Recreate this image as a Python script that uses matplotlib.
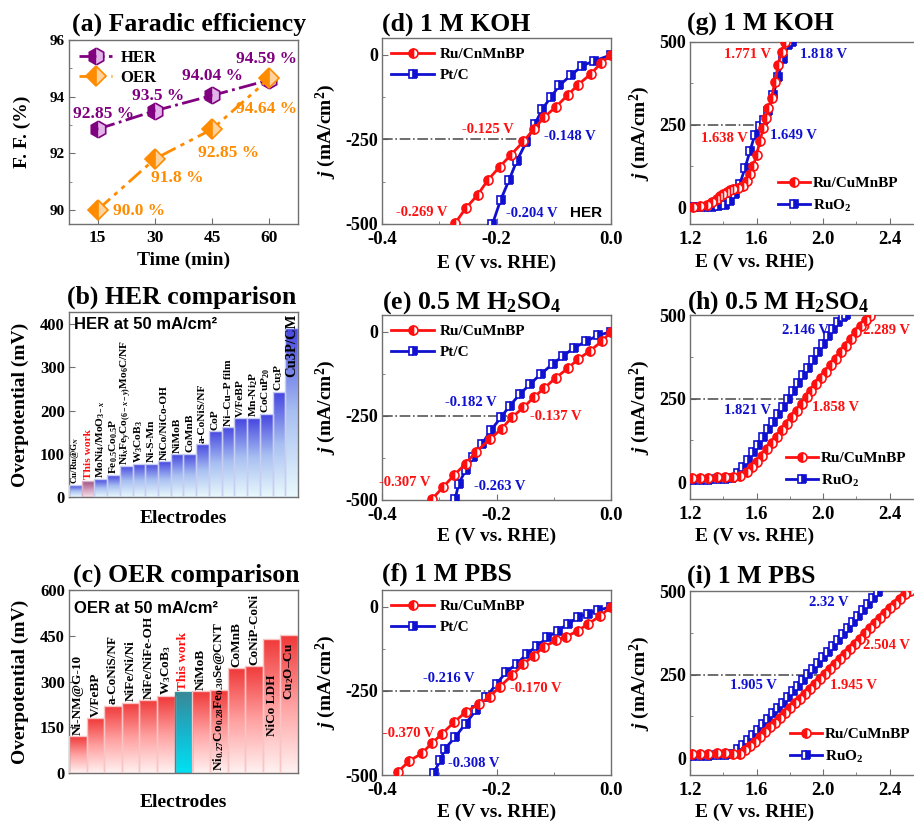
import numpy as np
import matplotlib
matplotlib.use("Agg")
import matplotlib.pyplot as plt
from matplotlib.colors import LinearSegmentedColormap
from matplotlib.ticker import MultipleLocator

plt.rcParams['font.family'] = ['Liberation Serif', 'DejaVu Serif']
plt.rcParams['font.weight'] = 'bold'
plt.rcParams['axes.labelweight'] = 'bold'
plt.rcParams['axes.unicode_minus'] = False
plt.rcParams['mathtext.fontset'] = 'custom'
plt.rcParams['mathtext.rm'] = 'Liberation Serif:bold'
plt.rcParams['mathtext.it'] = 'Liberation Serif:italic:bold'
plt.rcParams['mathtext.bf'] = 'Liberation Serif:bold'

# ---------------- data ----------------
fe_time = [15, 30, 45, 60]
fe_her = [92.85, 93.5, 94.04, 94.59]
fe_oer = [90.0, 91.8, 92.85, 94.64]

her_names = ['Cu/Ru@G$_N$', 'This work', 'MoNi$_4$/MoO$_{3-x}$', 'Fe$_{0.5}$Co$_{0.5}$P',
             'Ni$_x$Fe$_y$Co$_{(6-x-y)}$Mo$_6$C/NF', 'W$_3$CoB$_3$', 'Ni-S-Mn', 'NiCo/NiCo-OH',
             'NiMoB', 'CoMnB', 'a-CoNiS/NF', 'CoP', 'Ni–Cu–P film', 'V/FeBP', 'Mn-Ni$_2$P',
             'CoCuP$_{20}$', 'Cu$_3$P', 'Cu3P/CM']
her_vals = [27, 38, 41, 50, 72, 76, 77, 83, 99, 100, 123, 153, 162, 182, 182, 192, 242, 392]

oer_names = ['Ni-NM@G-10', 'V/FeBP', 'a-CoNiS/NF', 'NiFe/Ni/Ni', 'NiFe/NiFe-OH', 'W$_3$CoB$_3$',
             'This work', 'NiMoB', 'Ni$_{0.27}$Co$_{0.28}$Fe$_{0.30}$Se@CNT', 'CoMnB', 'CoNiP-CoNi',
             'NiCo LDH', 'Cu$_2$O–Cu']
oer_vals = [120, 180, 221, 231, 240, 251, 267, 268, 272, 344, 351, 440, 452]

# HER LSV (d) 1 M KOH
d_ru_x = [0.0, -0.018, -0.035, -0.058, -0.075, -0.096, -0.117, -0.135, -0.153, -0.175, -0.194, -0.215, -0.233, -0.254, -0.272]
d_ru_y = [0, -25, -56, -89, -118, -153, -185, -220, -256, -296, -330, -370, -414, -454, -497]
d_pt_x = [0.0, -0.03, -0.05, -0.07, -0.09, -0.105, -0.12, -0.133, -0.148, -0.165, -0.178, -0.193, -0.207]
d_pt_y = [0, -18, -32, -60, -90, -125, -160, -205, -258, -315, -370, -430, -500]
# (e) 0.5 M H2SO4
e_ru_x = [0.0, -0.016, -0.037, -0.058, -0.075, -0.096, -0.117, -0.135, -0.153, -0.173, -0.191, -0.212, -0.236, -0.254, -0.274, -0.293, -0.313]
e_ru_y = [0, -28, -57, -82, -108, -136, -168, -195, -225, -254, -288, -320, -357, -392, -426, -461, -498]
e_pt_x = [0.0, -0.022, -0.043, -0.064, -0.084, -0.102, -0.123, -0.141, -0.159, -0.177, -0.192, -0.210, -0.225, -0.241, -0.254, -0.266, -0.272]
e_pt_y = [0, -10, -28, -47, -72, -96, -126, -155, -185, -220, -254, -293, -333, -372, -412, -451, -496]
# (f) 1 M PBS
f_ru_x = [0.0, -0.019, -0.040, -0.058, -0.078, -0.096, -0.117, -0.135, -0.153, -0.173, -0.194, -0.212, -0.230, -0.254, -0.274, -0.295, -0.313, -0.331, -0.352, -0.372]
f_ru_y = [0, -27, -51, -71, -89, -100, -119, -145, -170, -204, -237, -268, -288, -313, -343, -377, -406, -436, -458, -490]
f_pt_x = [0.0, -0.022, -0.040, -0.058, -0.075, -0.093, -0.111, -0.129, -0.147, -0.165, -0.183, -0.200, -0.218, -0.236, -0.254, -0.272, -0.290, -0.298, -0.310]
f_pt_y = [0, -10, -20, -31, -51, -71, -91, -116, -140, -170, -194, -229, -268, -308, -347, -387, -422, -456, -495]
# OER LSV (g) 1 M KOH
g_ru_x = [1.22, 1.26, 1.30, 1.33, 1.36, 1.38, 1.40, 1.42, 1.44, 1.46, 1.49, 1.52, 1.54, 1.56, 1.58, 1.60, 1.62, 1.64, 1.655, 1.67, 1.69, 1.71, 1.73, 1.75, 1.77]
g_ru_y = [2, 4, 8, 15, 25, 34, 42, 48, 52, 55, 58, 66, 80, 100, 125, 160, 200, 240, 270, 300, 330, 380, 430, 470, 500]
g_ox_x = [1.21, 1.25, 1.29, 1.33, 1.37, 1.41, 1.44, 1.47, 1.50, 1.53, 1.56, 1.59, 1.62, 1.645, 1.67, 1.70, 1.73, 1.76, 1.79, 1.81]
g_ox_y = [2, 2, 2, 2, 3, 6, 18, 40, 72, 118, 170, 220, 245, 265, 290, 340, 395, 450, 490, 500]
# (h) 0.5 M H2SO4
h_ru_x = [1.21, 1.26, 1.31, 1.36, 1.41, 1.46, 1.50, 1.54, 1.57, 1.60, 1.63, 1.66, 1.69, 1.72, 1.75, 1.78, 1.81, 1.84, 1.87, 1.90, 1.93, 1.96, 1.99, 2.02, 2.05, 2.08, 2.11, 2.14, 2.17, 2.20, 2.23, 2.26, 2.28]
h_ru_y = [12, 13, 14, 15, 16, 15, 18, 32, 46, 62, 80, 98, 117, 136, 155, 175, 195, 214, 234, 254, 274, 293, 312, 331, 350, 369, 388, 408, 428, 448, 468, 485, 498]
h_ox_x = [1.21, 1.26, 1.31, 1.36, 1.41, 1.45, 1.49, 1.52, 1.55, 1.58, 1.61, 1.64, 1.67, 1.70, 1.73, 1.76, 1.79, 1.82, 1.85, 1.88, 1.91, 1.94, 1.97, 2.00, 2.03, 2.06, 2.09, 2.12, 2.14]
h_ox_y = [8, 8, 8, 9, 10, 14, 28, 46, 68, 90, 112, 135, 158, 180, 203, 226, 248, 272, 296, 320, 343, 366, 390, 414, 437, 458, 478, 495, 500]
# (i) 1 M PBS
i_ru_x = [1.21, 1.26, 1.31, 1.36, 1.41, 1.46, 1.50, 1.53, 1.56, 1.59, 1.62, 1.65, 1.68, 1.71, 1.74, 1.77, 1.80, 1.83, 1.86, 1.89, 1.92, 1.95, 1.98, 2.01, 2.04, 2.07, 2.10, 2.13, 2.16, 2.19, 2.22, 2.25, 2.28, 2.31, 2.34, 2.37, 2.40, 2.43, 2.46, 2.49, 2.52]
i_ru_y = [12, 13, 14, 15, 16, 14, 12, 25, 37, 50, 64, 78, 92, 106, 120, 134, 149, 164, 178, 193, 208, 223, 238, 253, 268, 283, 298, 313, 328, 343, 358, 373, 388, 403, 418, 433, 448, 462, 476, 490, 500]
i_ox_x = [1.21, 1.26, 1.31, 1.36, 1.41, 1.45, 1.49, 1.52, 1.55, 1.58, 1.61, 1.64, 1.67, 1.70, 1.73, 1.76, 1.79, 1.82, 1.85, 1.88, 1.91, 1.94, 1.97, 2.00, 2.03, 2.06, 2.09, 2.12, 2.15, 2.18, 2.21, 2.24, 2.27, 2.30, 2.33]
i_ox_y = [8, 8, 8, 9, 10, 14, 28, 40, 55, 70, 86, 102, 118, 134, 150, 166, 183, 200, 217, 234, 251, 268, 285, 302, 319, 336, 354, 372, 390, 408, 426, 444, 462, 480, 498]

# ---------------- style ----------------
RED = '#ff1010'
BLUE = '#1010d0'
PURPLE = '#800080'
ORANGE = '#ff8c00'
SPINE = '#707070'

W, H = 914, 824
fig = plt.figure(figsize=(W / 100, H / 100), dpi=100)


def axpx(l, r, t, b):
    return fig.add_axes([l / W, 1 - b / H, (r - l) / W, (b - t) / H])


def style(ax, xsize=13.5, ysize=13, xpad=5):
    for s in ax.spines.values():
        s.set_color(SPINE)
        s.set_linewidth(1.0)
    ax.tick_params(which='both', direction='in', color=SPINE)
    ax.tick_params(which='major', length=4)
    ax.tick_params(which='minor', length=2.5)
    ax.tick_params(axis='x', labelsize=xsize, pad=xpad)
    ax.tick_params(axis='y', labelsize=ysize, pad=3)


def title(ax, txt, x, y):
    ax.text(x, y, txt, transform=ax.transAxes, fontsize=18.5, fontweight='bold',
            ha='left', va='center')


# ---------------- (a) ----------------
axa = axpx(69, 298, 40, 224)
style(axa, 12.5, 11, 4)
axa.plot(fe_time, fe_her, linestyle='-.', color=PURPLE, lw=2, marker='h', ms=12,
         fillstyle='left', mfc=PURPLE, mfcalt='#e2b4ea', mec=PURPLE, mew=1.2, label='HER')
axa.plot(fe_time, fe_oer, linestyle=(0, (6, 2, 1.5, 2, 1.5, 2)), color=ORANGE, lw=2, marker='D',
         ms=10, fillstyle='left', mfc=ORANGE, mfcalt='#ffd39e', mec=ORANGE, mew=1.2, label='OER')
axa.set_xlim(7.5, 67.5)
axa.set_ylim(89.5, 96)
axa.set_xticks(fe_time)
axa.yaxis.set_major_locator(MultipleLocator(2))
axa.yaxis.set_minor_locator(MultipleLocator(1))
axa.set_xlabel('Time (min)', fontsize=14)
axa.set_ylabel('F. F. (%)', fontsize=14)
axa.xaxis.set_label_coords(0.5, -0.152)
axa.yaxis.set_label_coords(-0.166, 0.5)
her_off = [(4, 11), (2, 10.5), (0, 14), (-2, 15)]
oer_off = [(30, -1), (16, -14), (12, -17), (-2, -22)]
for x, y, o in zip(fe_time, fe_her, her_off):
    axa.annotate(f'{y:g} %', (x, y), xytext=o, textcoords='offset points', ha='center',
                 va='center', color=PURPLE, fontsize=12.5, fontweight='bold')
for x, y, o in zip(fe_time, fe_oer, oer_off):
    lab = f'{y:.1f} %' if y == 90.0 else f'{y:g} %'
    axa.annotate(lab, (x, y), xytext=o, textcoords='offset points', ha='center',
                 va='center', color=ORANGE, fontsize=12.5, fontweight='bold')
axa.legend(loc='upper left', frameon=False, fontsize=12, handlelength=2.0,
           borderaxespad=0.2, labelspacing=0.25, handletextpad=0.5)
title(axa, '(a) Faradic efficiency', 0.013, 1.087)


# ---------------- bar panels ----------------
def grad_bars(ax, rects, cmaps):
    g = np.linspace(0, 1, 256).reshape(-1, 1)
    for r, cm in zip(rects, cmaps):
        x0, y0, w, h = r.get_x(), r.get_y(), r.get_width(), r.get_height()
        im = ax.imshow(g, extent=[x0, x0 + w, y0, y0 + h], origin='lower', aspect='auto',
                       cmap=cm, zorder=2)
        im.set_clip_path(r)


cm_blue = LinearSegmentedColormap.from_list('b', ['#eaf9fc', '#a8c0f2', '#4545df'])
cm_mauve = LinearSegmentedColormap.from_list('m', ['#f7e2ea', '#cc95b5', '#984878'])
cm_red = LinearSegmentedColormap.from_list('r', ['#fff2f2', '#ffa0a0', '#f03838'])
cm_teal = LinearSegmentedColormap.from_list('t', ['#00e2f4', '#18b4cc', '#3a8796'])

# (b)
axb = axpx(69, 298, 312, 497)
style(axb, 12, 12)
xb = np.arange(len(her_vals))
rb = axb.bar(xb, her_vals, width=1.0, facecolor='none',
             edgecolor=['#d8b0c8' if n == 'This work' else '#c8cdf2' for n in her_names],
             lw=1.0, zorder=3)
grad_bars(axb, rb, [cm_mauve if n == 'This work' else cm_blue for n in her_names])
axb.set_xlim(-0.5, len(her_vals) - 0.5)
axb.set_ylim(0, 428)
axb.set_xticks([])
axb.yaxis.set_major_locator(MultipleLocator(100))
for i, (n, v) in enumerate(zip(her_names, her_vals)):
    col = RED if n == 'This work' else 'black'
    if i == len(her_vals) - 1:
        axb.text(i, 425, n, rotation=90, ha='center', va='top', fontsize=10.5, color=col, zorder=5)
    else:
        fs = 6.5 if i == 0 else 8.2
        axb.text(i, v + 3, n, rotation=90, ha='center', va='bottom', fontsize=fs, color=col, zorder=5)
axb.text(0.022, 0.93, 'HER at 50 mA/cm²', transform=axb.transAxes, family='Liberation Sans',
         fontsize=12, fontweight='bold', ha='left', va='center')
axb.set_xlabel('Electrodes', fontsize=14)
axb.set_ylabel('Overpotential (mV)', fontsize=14)
axb.xaxis.set_label_coords(0.5, -0.07)
axb.yaxis.set_label_coords(-0.175, 0.5)
title(axb, '(b) HER comparison', -0.01, 1.078)

# (c)
axc = axpx(69, 298, 590, 773)
style(axc, 12, 12)
xc = np.arange(len(oer_vals))
rc = axc.bar(xc, oer_vals, width=1.0, facecolor='none',
             edgecolor=['#2f8f9c' if n == 'This work' else '#f8c4c4' for n in oer_names],
             lw=1.0, zorder=3)
grad_bars(axc, rc, [cm_teal if n == 'This work' else cm_red for n in oer_names])
axc.set_xlim(-0.5, len(oer_vals) - 0.5)
axc.set_ylim(0, 600)
axc.set_xticks([])
axc.yaxis.set_major_locator(MultipleLocator(150))
inside_base = {8: 8, 11: 122, 12: 240}
for i, (n, v) in enumerate(zip(oer_names, oer_vals)):
    col = RED if n == 'This work' else 'black'
    yb = inside_base.get(i, v + 4)
    axc.text(i, yb, n, rotation=90, ha='center', va='bottom', fontsize=9.5, color=col, zorder=5)
axc.text(0.022, 0.90, 'OER at 50 mA/cm²', transform=axc.transAxes, family='Liberation Sans',
         fontsize=12, fontweight='bold', ha='left', va='center')
axc.set_xlabel('Electrodes', fontsize=14)
axc.set_ylabel('Overpotential (mV)', fontsize=14)
axc.xaxis.set_label_coords(0.5, -0.115)
axc.yaxis.set_label_coords(-0.175, 0.5)
title(axc, '(c) OER comparison', 0.017, 1.082)


# ---------------- LSV panels ----------------
def lsv(ax, rx, ry, bx, by, rlab, blab, her):
    ax.plot(rx, ry, '-', color=RED, lw=2, marker='o', ms=6.5, fillstyle='left', mfc=RED,
            mfcalt='white', mec=RED, mew=1.2, label=rlab, zorder=4)
    ax.plot(bx, by, '-', color=BLUE, lw=2, marker='s', ms=6, fillstyle='right', mfc=BLUE,
            mfcalt='white', mec=BLUE, mew=1.2, label=blab, zorder=3)
    if her:
        ax.set_xlim(-0.4, 0.0)
        ax.set_ylim(-500, 50)
        ax.set_xticks([-0.4, -0.2, 0.0])
        ax.set_xticklabels(['-0.4', '-0.2', '0.0'])
        ax.xaxis.set_minor_locator(MultipleLocator(0.1))
        ax.set_yticks([-500, -250, 0])
        ax.yaxis.set_minor_locator(MultipleLocator(125))
    else:
        ax.set_xlim(1.2, 2.6)
        ax.set_ylim(-50, 500)
        ax.set_xticks([1.2, 1.6, 2.0, 2.4])
        ax.set_xticklabels(['1.2', '1.6', '2.0', '2.4'])
        ax.xaxis.set_minor_locator(MultipleLocator(0.2))
        ax.set_yticks([0, 250, 500])
        ax.yaxis.set_minor_locator(MultipleLocator(125))
    ax.set_xlabel('E (V vs. RHE)', fontsize=14)
    ax.set_ylabel(r'$j$ (mA/cm$^2$)', fontsize=14)


def ann(ax, items):
    for x, y, s, c in items:
        ax.text(x, y, s, color=c, fontsize=10.5, fontweight='bold', ha='center', va='center', zorder=6)


def leg(ax, **kw):
    ax.legend(frameon=False, fontsize=11, labelspacing=0.5, **kw)


ref_d = [-0.150, -0.182, -0.203]
ref_o = [1.63, 1.894, 1.994]

# (d)
axd = axpx(382, 611, 38, 224)
style(axd)
lsv(axd, d_ru_x, d_ru_y, d_pt_x, d_pt_y, 'Ru/CnMnBP', 'Pt/C', True)
axd.plot([-0.4, ref_d[0]], [-250, -250], color='#555555', ls='-.', lw=1.2, zorder=2)
ann(axd, [(-0.215, -222, '-0.125 V', RED), (-0.072, -240, '-0.148 V', BLUE),
          (-0.331, -466, '-0.269 V', RED), (-0.138, -468, '-0.204 V', BLUE)])
axd.text(-0.044, -468, 'HER', family='Liberation Sans', fontsize=11, fontweight='bold',
         ha='center', va='center')
leg(axd, loc='upper left', handlelength=2.8, borderaxespad=0.2, handletextpad=0.4)
axd.xaxis.set_label_coords(0.5, -0.165)
axd.yaxis.set_label_coords(-0.192, 0.5)
title(axd, '(d) 1 M KOH', 0.0, 1.075)

# (e)
axe = axpx(382, 611, 315, 500)
style(axe)
lsv(axe, e_ru_x, e_ru_y, e_pt_x, e_pt_y, 'Ru/CuMnBP', 'Pt/C', True)
axe.plot([-0.4, ref_d[1]], [-250, -250], color='#555555', ls='-.', lw=1.2, zorder=2)
ann(axe, [(-0.245, -210, '-0.182 V', BLUE), (-0.096, -252, '-0.137 V', RED),
          (-0.360, -449, '-0.307 V', RED), (-0.194, -461, '-0.263 V', BLUE)])
leg(axe, loc='upper left', handlelength=2.8, borderaxespad=0.2, handletextpad=0.4)
axe.xaxis.set_label_coords(0.5, -0.15)
axe.yaxis.set_label_coords(-0.192, 0.5)
title(axe, r'(e) 0.5 M H$_2$SO$_4$', 0.0, 1.065)

# (f)
axf = axpx(382, 611, 590, 775)
style(axf)
lsv(axf, f_ru_x, f_ru_y, f_pt_x, f_pt_y, 'Ru/CuMnBP', 'Pt/C', True)
axf.plot([-0.4, ref_d[2]], [-250, -250], color='#555555', ls='-.', lw=1.2, zorder=2)
ann(axf, [(-0.283, -214, '-0.216 V', BLUE), (-0.132, -244, '-0.170 V', RED),
          (-0.354, -377, '-0.370 V', RED), (-0.239, -465, '-0.308 V', BLUE)])
leg(axf, loc='upper left', handlelength=2.8, borderaxespad=0.2, handletextpad=0.4)
axf.xaxis.set_label_coords(0.5, -0.157)
axf.yaxis.set_label_coords(-0.192, 0.5)
title(axf, '(f) 1 M PBS', 0.0, 1.086)

# (g)
axg = axpx(690, 923, 42, 224)
style(axg)
lsv(axg, g_ru_x, g_ru_y, g_ox_x, g_ox_y, 'Ru/CuMnBP', 'RuO$_2$', False)
axg.plot([1.2, ref_o[0]], [250, 250], color='#555555', ls='-.', lw=1.2, zorder=2)
ann(axg, [(1.544, 461, '1.771 V', RED), (2.004, 461, '1.818 V', BLUE),
          (1.404, 208, '1.638 V', RED), (1.824, 218, '1.649 V', BLUE)])
leg(axg, loc='lower left', bbox_to_anchor=(0.318, -0.02), handlelength=2.1, handletextpad=0.2)
axg.xaxis.set_label_coords((755 - 690) / 233, -0.165)
axg.yaxis.set_label_coords(-0.163, 0.5)
title(axg, '(g) 1 M KOH', -0.013, 1.099)

# (h)
axh = axpx(690, 923, 315, 499)
style(axh)
lsv(axh, h_ru_x, h_ru_y, h_ox_x, h_ox_y, 'Ru/CuMnBP', 'RuO$_2$', False)
axh.plot([1.2, ref_o[1]], [250, 250], color='#555555', ls='-.', lw=1.2, zorder=2)
ann(axh, [(1.894, 455, '2.146 V', BLUE), (2.378, 455, '2.289 V', RED),
          (1.544, 216, '1.821 V', BLUE), (2.074, 223, '1.858 V', RED)])
leg(axh, loc='lower left', bbox_to_anchor=(0.352, -0.02), handlelength=2.1, handletextpad=0.2)
axh.xaxis.set_label_coords((755 - 690) / 233, -0.155)
axh.yaxis.set_label_coords(-0.163, 0.5)
title(axh, r'(h) 0.5 M H$_2$SO$_4$', -0.013, 1.07)

# (i)
axi = axpx(690, 923, 591, 775)
style(axi)
lsv(axi, i_ru_x, i_ru_y, i_ox_x, i_ox_y, 'Ru/CuMnBP', 'RuO$_2$', False)
axi.plot([1.2, ref_o[2]], [250, 250], color='#555555', ls='-.', lw=1.2, zorder=2)
ann(axi, [(2.034, 465, '2.32 V', BLUE), (2.382, 336, '2.504 V', RED),
          (1.584, 219, '1.905 V', BLUE), (2.184, 219, '1.945 V', RED)])
leg(axi, loc='lower left', bbox_to_anchor=(0.37, -0.02), handlelength=2.1, handletextpad=0.2)
axi.xaxis.set_label_coords((755 - 690) / 233, -0.158)
axi.yaxis.set_label_coords(-0.163, 0.5)
title(axi, '(i) 1 M PBS', -0.013, 1.08)

fig.savefig('out.png', dpi=100)
